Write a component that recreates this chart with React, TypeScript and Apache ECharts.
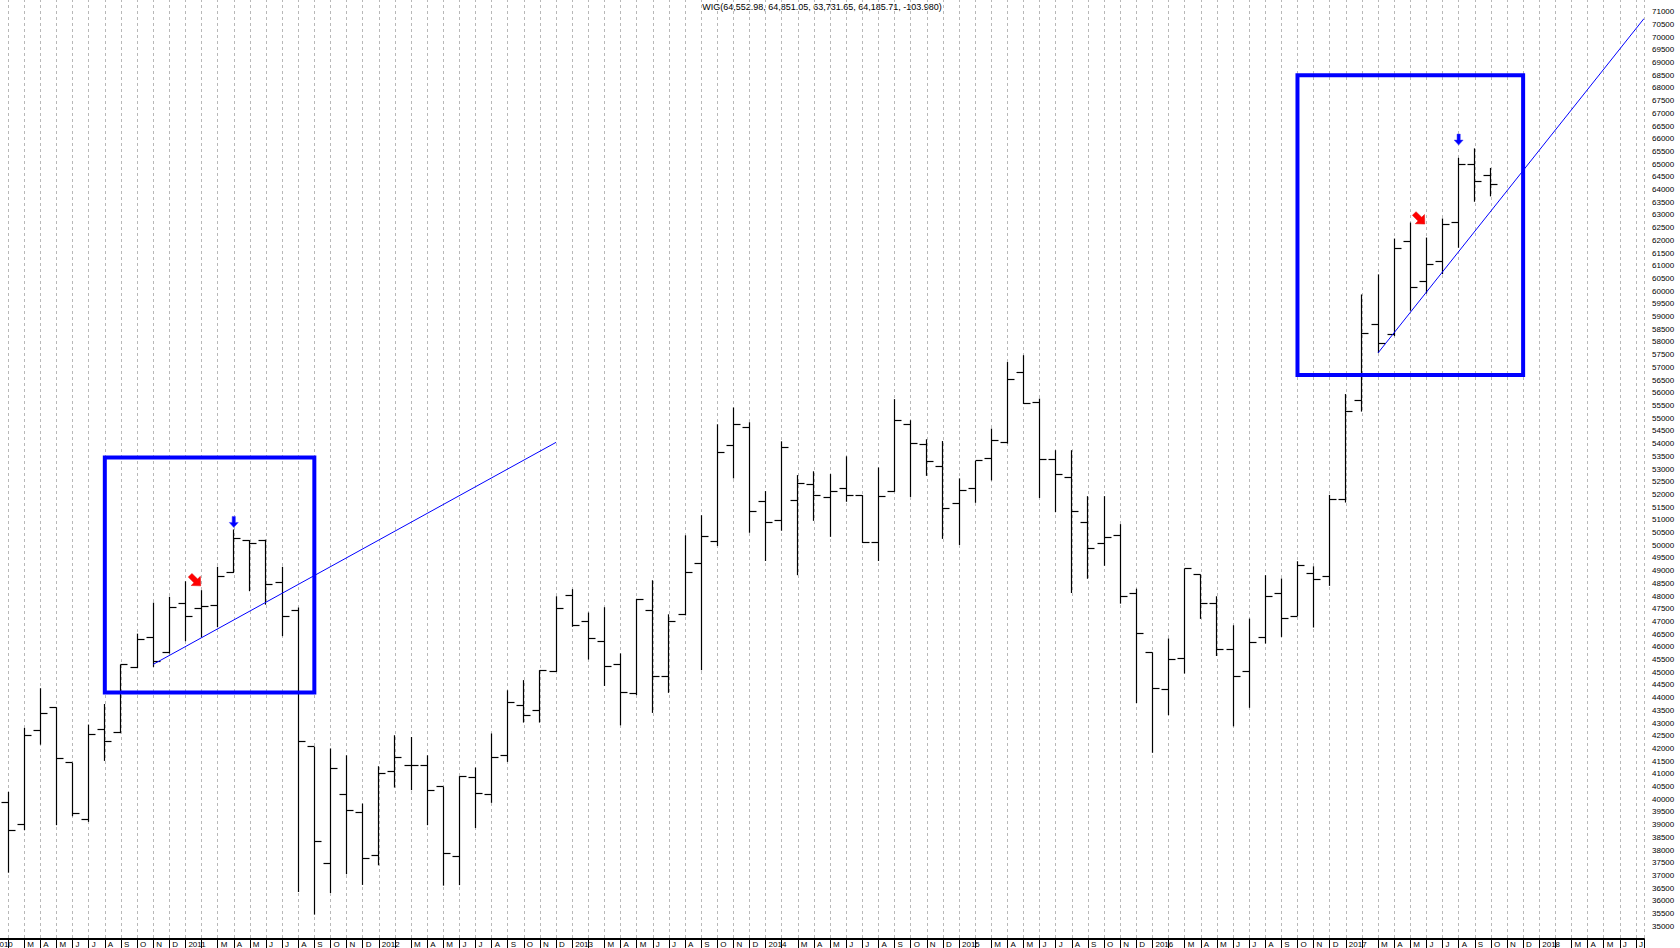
import React, { useEffect, useRef } from 'react';
import * as echarts from 'echarts';

// Monthly OHLC bars of WIG. First bar = Feb 2010 (months counted from Jan 2010 = 0)
const firstBarMonth = 1;
const firstYear = 2010;

const opens = [
  39870, 39000, 42700, 43600, 41430, 39200, 42760, 42630, 45180, 46370, 45790,
  47700, 47510, 47640, 48920, 50170, 50200, 48520, 47420, 42060, 37470, 40190, 39480,
  37770, 41090, 41340, 41340, 40490, 37730, 40870, 40180, 41720, 43680, 43490, 45010,
  48020, 47000, 46210, 45300, 44160, 47440, 44840, 47260, 49280, 50140, 53920, 54630,
  51720, 50970, 51760, 52390, 51880, 52240, 51960, 50090, 52110, 54750, 53960, 53100,
  51640, 52230, 53410, 54030, 56800, 55620, 53370, 52680, 50890, 50070, 50380, 48080,
  45780, 44320, 45540, 48850, 47700, 45890, 45010, 46370, 48100, 47210, 48880, 48750,
  51800, 55680, 58690, 58290, 61970, 60370, 61180, 62700, 64990, 64552.98,
];
const highs = [
  40290, 42810, 44370, 43620, 41430, 42940, 43750, 45300, 46520, 47740, 47970,
  48580, 48230, 49150, 50620, 50200, 50220, 49150, 47550, 42060, 42000, 41730, 39830,
  41300, 42520, 42450, 41730, 40490, 40910, 41250, 42590, 44290, 44690, 45080, 47990,
  48270, 47350, 47560, 45740, 47890, 48620, 47280, 50390, 51180, 54760, 55420, 54840,
  52130, 54090, 52760, 52910, 52800, 53500, 51970, 53060, 55750, 54920, 54170, 54100,
  52630, 53320, 54590, 57210, 57480, 55770, 53740, 53740, 51930, 51930, 50830, 48290,
  45780, 46330, 49080, 48850, 47990, 46850, 47110, 48820, 48690, 49370, 49170, 51980,
  55950, 59870, 60660, 62070, 62700, 62110, 62860, 65250, 65620, 64851.05,
];
const lows = [
  37110, 38780, 42150, 38980, 39330, 39110, 41510, 42600, 45160, 45210, 45740,
  46220, 46370, 46770, 48910, 48190, 47660, 46420, 36350, 35460, 36310, 37050, 36630,
  37400, 40460, 40360, 38980, 36600, 36620, 38870, 39860, 41470, 43020, 43020, 45010,
  46790, 45500, 44460, 42910, 44100, 43400, 44190, 47240, 45080, 49970, 52630, 50490,
  49380, 50570, 48820, 50960, 50330, 51710, 50090, 49380, 52100, 51900, 52730, 50250,
  50010, 51670, 52550, 54000, 55560, 51860, 51300, 48120, 48680, 49190, 47700, 43790,
  41830, 43310, 44950, 47100, 45640, 42870, 43600, 46130, 46390, 47210, 46760, 48400,
  51680, 55260, 57570, 58230, 59230, 59910, 60670, 61710, 63520, 63731.65,
];
const closes = [
  38780, 42510, 43370, 41600, 39440, 42550, 42270, 45300, 46290, 45430, 47560,
  47210, 47600, 48780, 50260, 50070, 48450, 47210, 42280, 38350, 41210, 39570, 37670,
  41020, 41640, 41340, 40330, 37860, 40880, 40220, 41640, 43810, 43280, 45070, 47510,
  46850, 46340, 45240, 44200, 47870, 44840, 46980, 48940, 50360, 53650, 54760, 51310,
  50890, 53850, 52430, 51960, 52110, 51960, 50090, 51920, 54910, 54000, 53280, 51430,
  52140, 53320, 54120, 56510, 55560, 53370, 52780, 51310, 49860, 50290, 47970, 46520,
  44360, 45500, 49080, 47700, 45890, 44820, 46190, 47970, 47110, 49200, 48650, 51800,
  55280, 58340, 57940, 61680, 60150, 61060, 62630, 64990, 64320, 64185.71,
];

// axis labels
const monthLetters = ['', '', 'M', 'A', 'M', 'J', 'J', 'A', 'S', 'O', 'N', 'D'];
const xMin = 0;
const xMax = 102.5;
const yMin = 34500;
const yMax = 71500;
const yStep = 500;
const yLabelFirst = 35000;
const yLabelLast = 71000;

const titleText = 'WIG(64,552.98, 64,851.05, 63,731.65, 64,185.71, -103.980)';

// annotations (data coordinates: month index, price)
const boxes = [
  [7, 53450, 20, 44200],
  [81, 68500, 95, 56700],
];
const trendLines = [
  [10, 45310, 35, 54050],
  [86, 57570, 102.5, 70730],
];
const downArrows = [
  [15, 50700],
  [91, 65750],
];
const diagArrows = [
  [12.95, 48400],
  [88.9, 62640],
];

const FONT = '"Liberation Sans", Arial, sans-serif';

function arrowPoints(tip: number[], pts: number[][], angle: number) {
  const c = Math.cos(angle);
  const s = Math.sin(angle);
  return pts.map(([x, y]) => [tip[0] + x * c - y * s, tip[1] + x * s + y * c]);
}

const downShape = [
  [-1.6, -11], [1.6, -11], [1.6, -5], [4.5, -5], [0, 0], [-4.5, -5], [-1.6, -5],
];
const diagShape = [
  [-2.6, -15], [2.6, -15], [2.6, -7], [6.5, -7], [0, 0], [-6.5, -7], [-2.6, -7],
];

export default function App() {
  const ref = useRef<HTMLDivElement>(null);
  useEffect(() => {
    const chart = echarts.init(ref.current!, null, { renderer: 'svg' });
    const ohlcData = opens.map((o, i) => [firstBarMonth + i, o, highs[i], lows[i], closes[i]]);
    const option: any = {
      animation: false,
      backgroundColor: '#ffffff',
      textStyle: { fontFamily: FONT },
      grid: { left: -8, right: 36, top: -1, bottom: 9, containLabel: false, outerBoundsMode: 'none' },
      graphic: [
        {
          type: 'text',
          x: 822,
          y: 2,
          style: { text: titleText, textAlign: 'center', fontSize: 9, fontFamily: FONT, fill: '#000' },
        },
      ],
      xAxis: {
        type: 'value',
        min: xMin,
        max: xMax,
        interval: 1,
        axisLine: { show: true, onZero: false, lineStyle: { color: '#000', width: 2 } },
        axisTick: { show: true, length: 10, lineStyle: { color: '#000', width: 1 } },
        axisLabel: {
          show: true,
          margin: 1,
          align: 'left',
          padding: [0, 0, 0, 3],
          fontSize: 8,
          color: '#000',
          fontFamily: FONT,
          showMinLabel: true,
          formatter: (v: number) => {
            if (Math.abs(v - Math.round(v)) > 1e-6) return '';
            const m = Math.round(v);
            const mo = m % 12;
            if (mo === 0) return String(firstYear + m / 12);
            return monthLetters[mo];
          },
        },
        splitLine: { show: true, lineStyle: { color: '#b8b8b8', width: 1, type: [3, 3] } },
      },
      yAxis: {
        type: 'value',
        position: 'right',
        min: yMin,
        max: yMax,
        interval: yStep,
        axisLine: { show: true, lineStyle: { color: '#000', width: 1 } },
        axisTick: { show: true, length: 6, lineStyle: { color: '#000' } },
        minorTick: { show: true, splitNumber: 5, length: 3, lineStyle: { color: '#000' } },
        splitLine: { show: false },
        minorSplitLine: { show: false },
        axisLabel: {
          show: true,
          margin: 8,
          fontSize: 8,
          color: '#000',
          fontFamily: FONT,
          formatter: (v: number) => (v < yLabelFirst || v > yLabelLast ? '' : String(v)),
        },
      },
      series: [
        {
          type: 'custom',
          name: 'WIG',
          data: ohlcData,
          encode: { x: 0, y: [1, 2, 3, 4] },
          clip: false,
          renderItem: (params: any, api: any) => {
            const x = api.value(0);
            const pO = api.coord([x, api.value(1)]);
            const pH = api.coord([x, api.value(2)]);
            const pL = api.coord([x, api.value(3)]);
            const pC = api.coord([x, api.value(4)]);
            const cx = Math.floor(pH[0]) + 0.5;
            const oy = Math.floor(pO[1]) + 0.5;
            const cy = Math.floor(pC[1]) + 0.5;
            const st = { stroke: '#000', lineWidth: 1.2 };
            return {
              type: 'group',
              children: [
                { type: 'line', shape: { x1: cx, y1: pH[1], x2: cx, y2: pL[1] }, style: st },
                { type: 'line', shape: { x1: cx - 7, y1: oy, x2: cx, y2: oy }, style: st },
                { type: 'line', shape: { x1: cx, y1: cy, x2: cx + 7, y2: cy }, style: st },
              ],
            };
          },
          z: 3,
        },
        {
          type: 'custom',
          name: 'boxes',
          data: boxes,
          encode: { x: [0, 2], y: [1, 3] },
          clip: false,
          renderItem: (params: any, api: any) => {
            const p1 = api.coord([api.value(0), api.value(1)]);
            const p2 = api.coord([api.value(2), api.value(3)]);
            return {
              type: 'rect',
              shape: { x: p1[0], y: p1[1], width: p2[0] - p1[0], height: p2[1] - p1[1] },
              style: { fill: 'none', stroke: '#0000ff', lineWidth: 4 },
            };
          },
          z: 4,
        },
        {
          type: 'custom',
          name: 'trend',
          data: trendLines,
          encode: { x: [0, 2], y: [1, 3] },
          clip: true,
          renderItem: (params: any, api: any) => {
            const p1 = api.coord([api.value(0), api.value(1)]);
            const p2 = api.coord([api.value(2), api.value(3)]);
            return {
              type: 'line',
              shape: { x1: p1[0], y1: p1[1], x2: p2[0], y2: p2[1] },
              style: { stroke: '#0000ff', lineWidth: 1 },
            };
          },
          z: 5,
        },
        {
          type: 'custom',
          name: 'downArrows',
          data: downArrows,
          encode: { x: 0, y: 1 },
          renderItem: (params: any, api: any) => {
            const tip = api.coord([api.value(0), api.value(1)]);
            return {
              type: 'polygon',
              shape: { points: arrowPoints(tip, downShape, 0) },
              style: { fill: '#0000ff', stroke: '#3a3aff', lineWidth: 0.5 },
            };
          },
          z: 6,
        },
        {
          type: 'custom',
          name: 'diagArrows',
          data: diagArrows,
          encode: { x: 0, y: 1 },
          renderItem: (params: any, api: any) => {
            const tip = api.coord([api.value(0), api.value(1)]);
            return {
              type: 'polygon',
              shape: { points: arrowPoints(tip, diagShape, -Math.PI / 4) },
              style: { fill: '#ff0000', stroke: '#e00000', lineWidth: 0.5 },
            };
          },
          z: 6,
        },
      ],
    };
    chart.setOption(option);
    return () => chart.dispose();
  }, []);
  return (
    <div
      ref={ref}
      style={{ position: 'fixed', left: 0, top: 0, width: 1680, height: 948, background: '#fff' }}
    />
  );
}
